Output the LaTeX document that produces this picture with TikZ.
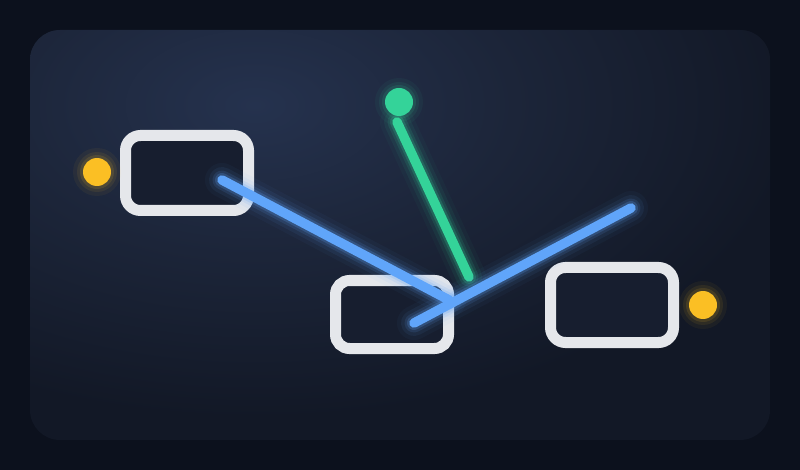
\documentclass[tikz,border=0pt]{standalone}
\definecolor{bg}{HTML}{0C111D}
\definecolor{panelin}{HTML}{25324E}
\definecolor{panelmid}{HTML}{1C2539}
\definecolor{panelout}{HTML}{121826}
\definecolor{boxfill}{HTML}{171E2F}
\definecolor{boxline}{HTML}{E5E7EB}
\definecolor{blueln}{HTML}{60A5FA}
\definecolor{greenln}{HTML}{34D399}
\definecolor{orangedot}{HTML}{FBBF24}
\pgfdeclareradialshading{panelglow}{\pgfpoint{0bp}{0bp}}{color(0bp)=(panelin); color(12bp)=(panelmid); color(25bp)=(panelout); color(50bp)=(panelout)}
\tikzset{
  boxnode/.style={draw=boxline, fill=boxfill, line width=11pt, rounded corners=15pt, inner sep=0pt},
  dotnode/.style={circle, fill=#1, minimum size=28pt, inner sep=0pt},
  glowline/.style={line cap=round, draw=#1},
}
\newcommand{\glowdraw}[3]{%
  \draw[glowline=#1, line width=34pt, opacity=0.04] (#2) -- (#3);
  \draw[glowline=#1, line width=26pt, opacity=0.07] (#2) -- (#3);
  \draw[glowline=#1, line width=19pt, opacity=0.12] (#2) -- (#3);
  \draw[glowline=#1, line width=14pt, opacity=0.2] (#2) -- (#3);
  \draw[glowline=#1, line width=9.5pt] (#2) -- (#3);
}
\newcommand{\glowdot}[2]{%
  \fill[#1, opacity=0.05] (#2) circle (24pt);
  \fill[#1, opacity=0.08] (#2) circle (20pt);
  \fill[#1, opacity=0.12] (#2) circle (17pt);
}
\begin{document}
\begin{tikzpicture}[x=1pt,y=-1pt]
\fill[bg] (0,0) rectangle (800,470);
\useasboundingbox (0,0) rectangle (800,470);
\begin{scope}
  \clip[rounded corners=30pt] (30,30) rectangle (770,440);
  \fill[panelout] (30,30) rectangle (770,440);
  \begin{scope}[shift={(255,105)}, yscale=0.58]
    \shade[shading=panelglow] (0,0) circle (540pt);
  \end{scope}
\end{scope}
% boxes
\node[boxnode, minimum width=123pt, minimum height=75pt] (b1) at (187,173) {};
\node[boxnode, minimum width=113pt, minimum height=68pt, rounded corners=14pt] (b2) at (392,314.5) {};
\node[boxnode, minimum width=123pt, minimum height=75pt] (b3) at (612,305) {};
% dots
\glowdot{orangedot}{97,172}
\glowdot{orangedot}{703,305}
\glowdot{greenln}{399,102}
\node[dotnode=orangedot] (o1) at (97,172) {};
\node[dotnode=orangedot] (o2) at (703,305) {};
\node[dotnode=greenln] (g) at (399,102) {};
% connector ends
\coordinate (g1) at (397,122);
\coordinate (g2) at (469,277);
\coordinate (a1) at (222,180);
\coordinate (a2) at (449,300);
\coordinate (c1) at (414,323);
\coordinate (c2) at (631,208);
% lines
\glowdraw{greenln}{g1}{g2}
\glowdraw{blueln}{a1}{a2}
\glowdraw{blueln}{c1}{c2}
\end{tikzpicture}
\end{document}
